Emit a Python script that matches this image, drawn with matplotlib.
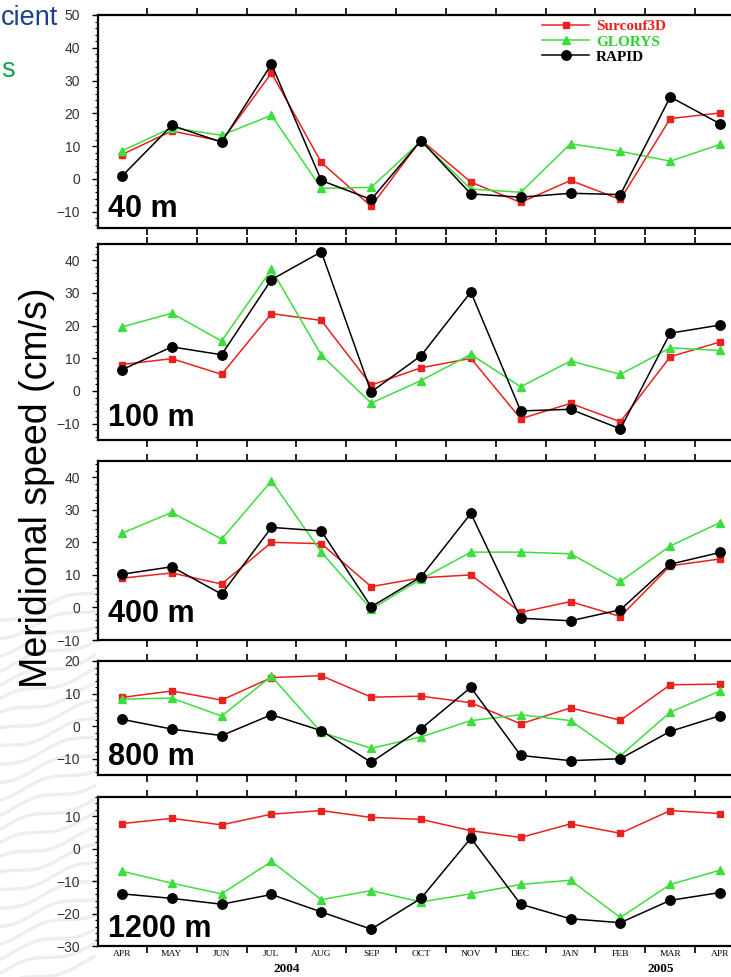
import numpy as np
import matplotlib.pyplot as plt
from matplotlib.lines import Line2D

# ---- data -------------------------------------------------------------
months = ["APR", "MAY", "JUN", "JUL", "AUG", "SEP", "OCT",
          "NOV", "DEC", "JAN", "FEB", "MAR", "APR"]
years = ["2004", "2005"]
depths = ["40 m", "100 m", "400 m", "800 m", "1200 m"]
series_names = ["Surcouf3D", "GLORYS", "RAPID"]

surcouf_40 = [7.4, 14.6, 11.5, 32.3, 5.0, -8.4, 11.9, -1.0, -7.2, -0.5, -6.3, 18.4, 20.1]
glorys_40 = [8.5, 15.6, 13.3, 19.4, -2.9, -2.6, 11.5, -3.1, -4.1, 10.7, 8.4, 5.4, 10.5]
rapid_40 = [0.8, 16.3, 11.2, 35.0, -0.5, -6.3, 11.7, -4.6, -5.6, -4.4, -4.8, 25.0, 16.8]

surcouf_100 = [8.1, 9.9, 5.1, 23.7, 21.6, 1.8, 7.1, 10.0, -8.5, -3.8, -9.4, 10.5, 15.0]
glorys_100 = [19.6, 23.8, 15.3, 37.2, 11.0, -3.7, 3.2, 11.2, 1.3, 9.2, 5.1, 13.2, 12.4]
rapid_100 = [6.5, 13.5, 11.1, 34.1, 42.6, -0.3, 10.8, 30.3, -6.1, -5.6, -11.6, 17.7, 20.2]

surcouf_400 = [9.0, 10.6, 7.2, 20.0, 19.6, 6.4, 9.1, 10.0, -1.5, 1.8, -2.8, 12.8, 14.9]
glorys_400 = [22.8, 29.2, 21.0, 38.9, 17.0, -0.5, 8.7, 17.0, 17.0, 16.5, 8.0, 18.9, 26.1]
rapid_400 = [10.2, 12.5, 4.1, 24.6, 23.5, 0.2, 9.4, 28.9, -3.3, -4.1, -0.7, 13.3, 16.9]

surcouf_800 = [8.8, 10.8, 8.0, 14.9, 15.5, 8.9, 9.2, 7.2, 0.7, 5.6, 1.8, 12.7, 12.9]
glorys_800 = [8.3, 8.6, 3.1, 15.3, -1.9, -6.8, -3.3, 1.7, 3.5, 1.7, -9.1, 4.3, 10.8]
rapid_800 = [2.1, -0.9, -2.9, 3.5, -1.4, -11.1, -0.8, 11.9, -9.0, -10.6, -10.0, -1.6, 3.2]

surcouf_1200 = [7.8, 9.4, 7.4, 10.7, 11.8, 9.7, 9.1, 5.6, 3.5, 7.7, 4.8, 11.8, 10.9]
glorys_1200 = [-6.9, -10.6, -13.9, -3.9, -15.7, -12.9, -16.4, -13.9, -11.0, -9.7, -21.2, -11.0, -6.6]
rapid_1200 = [-13.9, -15.3, -17.1, -14.1, -19.5, -24.8, -15.3, 3.3, -17.1, -21.6, -22.8, -15.9, -13.5]

surcouf = [surcouf_40, surcouf_100, surcouf_400, surcouf_800, surcouf_1200]
glorys = [glorys_40, glorys_100, glorys_400, glorys_800, glorys_1200]
rapid = [rapid_40, rapid_100, rapid_400, rapid_800, rapid_1200]

y_limits = [(-15, 50), (-15, 45), (-10, 45), (-15, 20), (-30, 16)]

# ---- layout / style ---------------------------------------------------
W, H = 731, 977
panel_px = [(15, 228), (244, 440), (461, 640), (661, 775), (797, 946)]
left_px, right_px = 98, 745
label_base_px = [11, 14, 18, 10, 9]

RED = "#e8231f"
GREEN = "#3ddd3d"
BLACK = "#000000"
SANS = ["Liberation Sans", "DejaVu Sans"]
SERIF = ["Liberation Serif", "DejaVu Serif"]

styles = [
    dict(color=RED, marker="s", markersize=4.6, lw=1.1, text="#e8231f"),
    dict(color=GREEN, marker="^", markersize=6.2, lw=1.1, text="#2fd02f"),
    dict(color=BLACK, marker="o", markersize=6.8, lw=1.1, text="#000000"),
]

fig = plt.figure(figsize=(W / 100, H / 100), dpi=100)
fig.patch.set_facecolor("white")

# slide backdrop: faint streaks down the lower-left margin and title fragments
bg = fig.add_axes([0, 0, 1, 1], zorder=-5)
bg.set_xlim(0, W)
bg.set_ylim(H, 0)
bg.axis("off")
t = np.linspace(0, 110, 200)
for k in range(24):
    y0 = 620 + k * 16
    yy = y0 - 0.3 * t + 4 * np.sin(t / 14 + k * 0.7)
    bg.plot(t, yy, color="#eeeeee", lw=2.4, solid_capstyle="round", zorder=0)
bg.add_patch(plt.Rectangle((96, 0), W, H, color="white", zorder=1))

fig.text(1 / W, 1 - 25 / H, "cient", ha="left", va="baseline",
         fontsize=19.5, color="#1b3d96", family=SANS)
fig.text(1 / W, 1 - 77 / H, "s", ha="left", va="baseline",
         fontsize=19.5, color="#10a64a", family=SANS)

x = np.arange(len(months))
axes = []
for i, (top, bot) in enumerate(panel_px):
    ax = fig.add_axes([left_px / W, 1 - bot / H, (right_px - left_px) / W, (bot - top) / H])
    axes.append(ax)
    for data, st in zip((surcouf[i], glorys[i], rapid[i]), styles):
        ax.plot(x, data, color=st["color"], lw=st["lw"], marker=st["marker"],
                markersize=st["markersize"], markeredgecolor=st["color"],
                markerfacecolor=st["color"], zorder=3)
    ax.set_xlim(-0.48, 12.5)
    ax.set_ylim(*y_limits[i])
    lo, hi = y_limits[i]
    ax.set_yticks(np.arange(np.ceil(lo / 10) * 10, hi + 0.1, 10))
    ax.set_yticks(np.arange(np.ceil(lo / 2) * 2, hi + 0.1, 2), minor=True)
    ax.set_yticklabels([f"{int(v)}".replace("-", "\u2212") for v in ax.get_yticks()])
    ax.set_xticks(np.arange(0.5, 12, 1))
    ax.tick_params(axis="x", which="major", direction="out", length=5, width=1.2,
                   top=True, bottom=True, labelbottom=False)
    ax.tick_params(axis="y", which="major", direction="out", length=4.5, width=1.0,
                   pad=8.5, labelsize=10, labelcolor="#333333")
    ax.tick_params(axis="y", which="minor", direction="out", length=2.2, width=0.8)
    for lab in ax.get_yticklabels():
        lab.set_family(SANS)
    for s in ax.spines.values():
        s.set_linewidth(1.6)
    h_px = bot - top
    ax.text(10 / (right_px - left_px), label_base_px[i] / h_px, depths[i],
            transform=ax.transAxes, ha="left", va="baseline",
            fontsize=22, fontweight="bold", family=SANS, zorder=5)

# month names under the last panel, years below them
ax = axes[-1]
ax.set_xticks(x, months, minor=True)
ax.tick_params(axis="x", which="minor", length=0, pad=3, labelsize=6.8)
for lab in ax.get_xticklabels(minor=True):
    lab.set_family(SERIF)
h_last = panel_px[-1][1] - panel_px[-1][0]
for yr, xpos in zip(years, [3.3, 10.8]):
    ax.text(xpos, -23 / h_last, yr, transform=ax.get_xaxis_transform(),
            ha="center", va="center", fontsize=9.5, fontweight="bold", family=SERIF)

# legend in the top panel
handles = [Line2D([], [], color=st["color"], lw=st["lw"], marker=st["marker"],
                  markersize=st["markersize"], markerfacecolor=st["color"],
                  markeredgecolor=st["color"]) for st in styles]
leg = axes[0].legend(handles, series_names, loc="upper left",
                     bbox_to_anchor=((542 - left_px) / (right_px - left_px), 0.978),
                     frameon=False, borderpad=0, borderaxespad=0, handlelength=3.1,
                     handletextpad=0.45, labelspacing=0.1,
                     prop=dict(family=SERIF, weight="bold", size=11))
for txt, st in zip(leg.get_texts(), styles):
    txt.set_color(st["text"])

fig.text(37 / W, 1 - 488 / H, "Meridional speed (cm/s)", rotation=90,
         ha="center", va="center", fontsize=27, family=SANS)

fig.savefig("out.png", dpi=100)
